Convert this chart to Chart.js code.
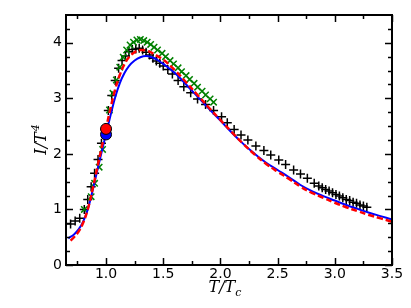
<!DOCTYPE html>
<html>
<head>
<meta charset="utf-8">
<script src="https://cdn.jsdelivr.net/npm/chart.js@4/dist/chart.umd.min.js"></script>
<style>
  html, body { margin: 0; padding: 0; background: #fff; }
  #wrap { width: 411px; height: 308px; }
</style>
</head>
<body>
<div id="wrap"><canvas id="chart" width="411" height="308"></canvas></div>
<script>
// lattice data (black +)
const latticeX = [0.69, 0.73, 0.77, 0.81, 0.84, 0.87, 0.90, 0.93, 0.96, 0.99, 1.02, 1.05, 1.08, 1.11, 1.14, 1.17, 1.20, 1.23, 1.26, 1.29, 1.32, 1.35, 1.38, 1.41, 1.44, 1.47, 1.50, 1.54, 1.58, 1.63, 1.68, 1.74, 1.80, 1.87, 1.94, 2.01, 2.06, 2.12, 2.18, 2.24, 2.31, 2.38, 2.44, 2.51, 2.57, 2.64, 2.70, 2.76, 2.82, 2.86, 2.89, 2.92, 2.95, 2.98, 3.01, 3.04, 3.07, 3.10, 3.13, 3.16, 3.19, 3.22, 3.25, 3.28];
const latticeY = [0.74, 0.79, 0.84, 1.00, 1.18, 1.41, 1.65, 1.90, 2.19, 2.45, 2.78, 3.05, 3.32, 3.54, 3.68, 3.76, 3.84, 3.88, 3.89, 3.90, 3.87, 3.83, 3.78, 3.72, 3.67, 3.63, 3.58, 3.52, 3.44, 3.32, 3.21, 3.10, 2.99, 2.89, 2.78, 2.67, 2.56, 2.44, 2.34, 2.25, 2.14, 2.06, 1.98, 1.89, 1.81, 1.71, 1.64, 1.56, 1.47, 1.42, 1.39, 1.36, 1.33, 1.30, 1.27, 1.24, 1.21, 1.18, 1.16, 1.13, 1.11, 1.08, 1.06, 1.04];

// second data set (green x)
const greenX = [0.81, 0.87, 0.90, 0.94, 0.97, 1.00, 1.03, 1.06, 1.09, 1.12, 1.15, 1.18, 1.21, 1.24, 1.27, 1.30, 1.33, 1.36, 1.39, 1.42, 1.45, 1.49, 1.52, 1.56, 1.59, 1.63, 1.66, 1.70, 1.73, 1.77, 1.80, 1.84, 1.87, 1.91, 1.94];
const greenY = [1.00, 1.23, 1.47, 1.76, 2.08, 2.42, 2.79, 3.09, 3.33, 3.56, 3.74, 3.87, 3.96, 4.01, 4.05, 4.06, 4.04, 4.01, 3.97, 3.92, 3.87, 3.81, 3.75, 3.68, 3.62, 3.55, 3.48, 3.41, 3.34, 3.27, 3.20, 3.13, 3.06, 2.99, 2.93];

// model curves
const blueX = [0.67, 0.72, 0.76, 0.80, 0.84, 0.88, 0.92, 0.96, 1.00, 1.04, 1.08, 1.12, 1.16, 1.20, 1.25, 1.30, 1.35, 1.40, 1.45, 1.50, 1.60, 1.70, 1.80, 1.90, 2.00, 2.10, 2.20, 2.30, 2.40, 2.50, 2.60, 2.70, 2.80, 2.90, 3.00, 3.10, 3.20, 3.30, 3.40, 3.50];
const blueY = [0.48, 0.55, 0.64, 0.78, 1.00, 1.32, 1.67, 2.02, 2.36, 2.70, 3.02, 3.27, 3.45, 3.58, 3.68, 3.74, 3.76, 3.74, 3.69, 3.62, 3.46, 3.25, 3.03, 2.81, 2.60, 2.38, 2.18, 2.00, 1.84, 1.71, 1.58, 1.44, 1.33, 1.24, 1.16, 1.08, 1.01, 0.94, 0.88, 0.82];
const redX = [0.69, 0.72, 0.76, 0.80, 0.84, 0.88, 0.92, 0.96, 1.00, 1.04, 1.08, 1.12, 1.16, 1.20, 1.25, 1.30, 1.35, 1.40, 1.45, 1.50, 1.60, 1.70, 1.80, 1.90, 2.00, 2.10, 2.20, 2.30, 2.40, 2.50, 2.60, 2.70, 2.80, 2.90, 3.00, 3.10, 3.20, 3.30, 3.40, 3.50];
const redY = [0.44, 0.50, 0.60, 0.76, 1.00, 1.34, 1.72, 2.10, 2.46, 2.83, 3.16, 3.42, 3.61, 3.74, 3.83, 3.87, 3.86, 3.82, 3.76, 3.70, 3.51, 3.29, 3.06, 2.83, 2.61, 2.39, 2.18, 1.99, 1.82, 1.68, 1.55, 1.41, 1.30, 1.21, 1.12, 1.04, 0.97, 0.90, 0.84, 0.78];

// points at T = Tc
const blueDot = [1.0, 2.35];
const redDot = [1.0, 2.45];

const xTicks = [1.0, 1.5, 2.0, 2.5, 3.0, 3.5];
const xMinor = [0.75, 1.25, 1.75, 2.25, 2.75, 3.25];
const yTicks = [0, 1, 2, 3, 4];
const yMinor = [0.25, 0.5, 0.75, 1.25, 1.5, 1.75, 2.25, 2.5, 2.75, 3.25, 3.5, 3.75, 4.25];

const pts = (xs, ys) => xs.map((x, i) => ({ x: x, y: ys[i] }));

const frame = {
  id: 'frame',
  afterDraw(chart) {
    const { ctx, chartArea: a } = chart;
    const sx = chart.scales.x, sy = chart.scales.y;
    const line = (x1, y1, x2, y2) => {
      ctx.beginPath(); ctx.moveTo(x1, y1); ctx.lineTo(x2, y2); ctx.stroke();
    };
    ctx.save();
    ctx.strokeStyle = '#000';
    ctx.lineWidth = 1.5;
    const xt = (v, len) => {
      const p = Math.round(sx.getPixelForValue(v)) + 0.5;
      line(p, a.bottom, p, a.bottom - len);
      line(p, a.top, p, a.top + len);
    };
    const yt = (v, len) => {
      const p = Math.round(sy.getPixelForValue(v)) + 0.5;
      line(a.left, p, a.left + len, p);
      line(a.right, p, a.right - len, p);
    };
    xTicks.forEach(v => xt(v, 7));
    xMinor.forEach(v => xt(v, 4));
    yTicks.forEach(v => yt(v, 7));
    yMinor.forEach(v => yt(v, 4));
    ctx.lineWidth = 2;
    ctx.strokeRect(a.left, a.top, a.right - a.left, a.bottom - a.top);

    // axis titles
    ctx.fillStyle = '#000';
    ctx.textBaseline = 'alphabetic';
    const xt1 = 'T/T';
    ctx.font = 'italic 16px "DejaVu Serif"';
    const w1 = ctx.measureText(xt1).width;
    ctx.font = 'italic 11px "DejaVu Serif"';
    const w2 = ctx.measureText('c').width;
    const cx = (a.left + a.right) / 2 - 4 - (w1 + w2) / 2;
    ctx.font = 'italic 16px "DejaVu Serif"';
    ctx.fillText(xt1, cx, 292);
    ctx.font = 'italic 11px "DejaVu Serif"';
    ctx.fillText('c', cx + w1, 296);

    ctx.translate(46, (a.top + a.bottom) / 2);
    ctx.rotate(-Math.PI / 2);
    ctx.font = 'italic 16px "DejaVu Serif"';
    const yt1 = 'I/T';
    const v1 = ctx.measureText(yt1).width;
    ctx.font = 'italic 11px "DejaVu Serif"';
    const v2 = ctx.measureText('4').width;
    const cy = -(v1 + v2) / 2;
    ctx.font = 'italic 16px "DejaVu Serif"';
    ctx.fillText(yt1, cy, 0);
    ctx.font = 'italic 11px "DejaVu Serif"';
    ctx.fillText('4', cy + v1 + 1, -7);
    ctx.restore();
  }
};

new Chart(document.getElementById('chart'), {
  type: 'scatter',
  data: {
    datasets: [
      {
        data: pts([redDot[0]], [redDot[1]]),
        pointStyle: 'circle', pointRadius: 5.5,
        backgroundColor: '#ff0000', borderColor: '#000', borderWidth: 1, order: 0
      },
      {
        data: pts([blueDot[0]], [blueDot[1]]),
        pointStyle: 'circle', pointRadius: 5.5,
        backgroundColor: '#0000ff', borderColor: '#000', borderWidth: 1, order: 1
      },
      {
        type: 'line', data: pts(redX, redY), showLine: true,
        borderColor: '#ff0000', borderWidth: 2.5, borderDash: [6, 3],
        pointRadius: 0, tension: 0.4, order: 2
      },
      {
        type: 'line', data: pts(blueX, blueY), showLine: true,
        borderColor: '#0000ff', borderWidth: 2,
        pointRadius: 0, tension: 0.4, order: 3
      },
      {
        data: pts(greenX, greenY), pointStyle: 'crossRot', pointRadius: 4.5,
        borderColor: '#008000', borderWidth: 1.5, order: 4
      },
      {
        data: pts(latticeX, latticeY), pointStyle: 'cross', pointRadius: 4.5,
        borderColor: '#000', borderWidth: 1.5, order: 5
      }
    ]
  },
  options: {
    responsive: false,
    animation: false,
    layout: { padding: { left: 0, top: 15, right: 19, bottom: 0 } },
    plugins: { legend: { display: false }, tooltip: { enabled: false } },
    scales: {
      x: {
        type: 'linear', min: 0.65, max: 3.5,
        grid: { display: false, drawTicks: false },
        border: { display: false },
        afterBuildTicks: (s) => { s.ticks = xTicks.map(v => ({ value: v })); },
        afterFit: (s) => { s.height = 43; },
        ticks: {
          color: '#000', padding: 1,
          font: { family: 'DejaVu Sans', size: 14 },
          callback: (v) => Number(v).toFixed(1)
        }
      },
      y: {
        type: 'linear', min: 0, max: 4.5,
        grid: { display: false, drawTicks: false },
        border: { display: false },
        afterBuildTicks: (s) => { s.ticks = yTicks.map(v => ({ value: v })); },
        afterFit: (s) => { s.width = 66; },
        ticks: {
          color: '#000', padding: 4,
          font: { family: 'DejaVu Sans', size: 14 },
          callback: (v) => String(v)
        }
      }
    }
  },
  plugins: [frame]
});
</script>
</body>
</html>
